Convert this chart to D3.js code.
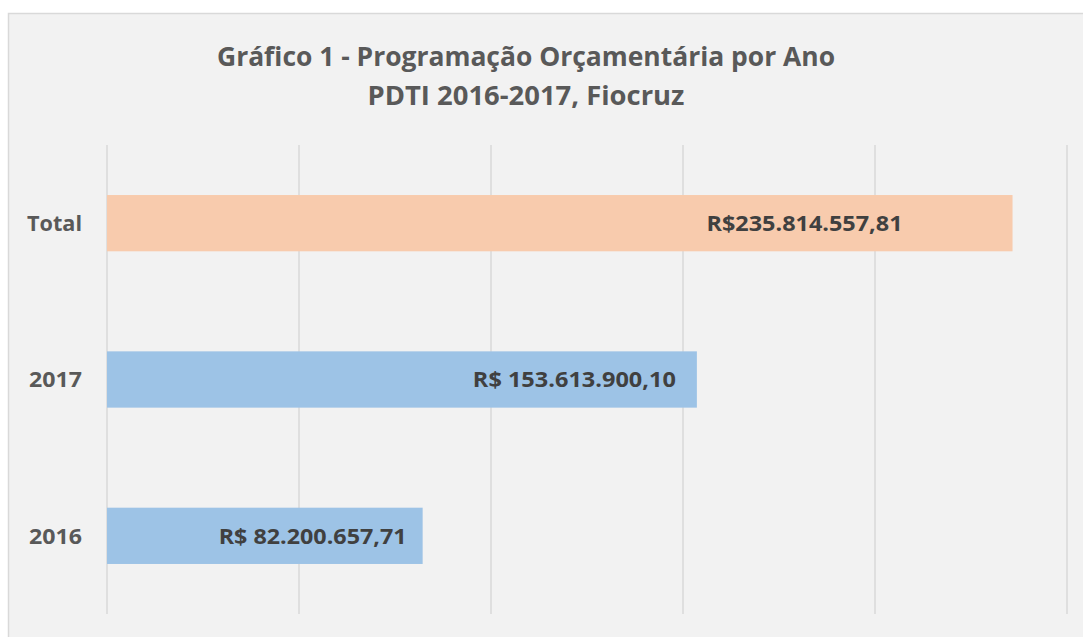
<!DOCTYPE html>
<html>
<head>
<meta charset="utf-8">
<script src="https://cdn.jsdelivr.net/npm/d3@7"></script>
<style>
  html, body { margin: 0; padding: 0; background: #fff; }
  svg { display: block; }
</style>
</head>
<body>
<svg id="chart" width="1083" height="637"></svg>
<script>
"use strict";

// data
const categories = ["Total", "2017", "2016"];
const values = [235814557.81, 153613900.10, 82200657.71];
const valueLabels = ["R$235.814.557,81", "R$ 153.613.900,10", "R$ 82.200.657,71"];
const barColors = ["#f8cbad", "#9dc3e6", "#9dc3e6"];
const gridTicks = [0, 50e6, 100e6, 150e6, 200e6, 250e6];
const titleLines = ["Gráfico 1 - Programação Orçamentária por Ano", "PDTI 2016-2017, Fiocruz"];

const font = "'Open Sans', 'Noto Sans', sans-serif";
const svg = d3.select("#chart");

// chart area (frame runs off the right / bottom of the picture)
svg.append("rect")
  .attr("x", 8.5).attr("y", 13.5)
  .attr("width", 1100).attr("height", 700)
  .attr("fill", "#f2f2f2")
  .attr("stroke", "#d9d9d9")
  .attr("stroke-width", 1.5);

// title
const titleW = [618, 317];
svg.append("g").selectAll("text")
  .data(titleLines)
  .enter()
  .append("text")
  .attr("x", 526)
  .attr("y", (d, i) => 66 + i * 39)
  .attr("text-anchor", "middle")
  .attr("font-family", font)
  .attr("font-weight", "bold")
  .attr("font-size", 27)
  .attr("fill", "#595959")
  .attr("textLength", (d, i) => titleW[i])
  .attr("lengthAdjust", "spacingAndGlyphs")
  .text(d => d);

const x = d3.scaleLinear().domain([0, 250e6]).range([107, 1067]);
const y = d3.scaleBand().domain(categories).range([145, 614]).paddingInner(0.64).paddingOuter(0.32);

// vertical gridlines
svg.append("g").selectAll("line")
  .data(gridTicks)
  .enter()
  .append("line")
  .attr("x1", d => x(d)).attr("x2", d => x(d))
  .attr("y1", 145).attr("y2", 614)
  .attr("stroke", "#d9d9d9")
  .attr("stroke-width", 1.5);

// bars
svg.append("g").selectAll("rect")
  .data(values)
  .enter()
  .append("rect")
  .attr("x", x(0))
  .attr("y", (d, i) => y(categories[i]))
  .attr("width", d => x(d) - x(0))
  .attr("height", y.bandwidth())
  .attr("fill", (d, i) => barColors[i]);

// category labels
svg.append("g").selectAll("text")
  .data(categories)
  .enter()
  .append("text")
  .attr("x", 82)
  .attr("y", d => y(d) + y.bandwidth() / 2)
  .attr("dy", "0.36em")
  .attr("text-anchor", "end")
  .attr("font-family", font)
  .attr("font-weight", "bold")
  .attr("font-size", 21.5)
  .attr("fill", "#595959")
  .attr("textLength", (d, i) => i === 0 ? 55 : 53)
  .attr("lengthAdjust", "spacingAndGlyphs")
  .text(d => d);

// value labels (the Total one was dragged left of the bar end)
const labelInset = [110, 21, 16];
const labelW = [196, 203, 188];
svg.append("g").selectAll("text")
  .data(valueLabels)
  .enter()
  .append("text")
  .attr("x", (d, i) => x(values[i]) - labelInset[i])
  .attr("y", (d, i) => y(categories[i]) + y.bandwidth() / 2)
  .attr("dy", "0.36em")
  .attr("text-anchor", "end")
  .attr("font-family", font)
  .attr("font-weight", "bold")
  .attr("font-size", 21.5)
  .attr("fill", "#404040")
  .attr("textLength", (d, i) => labelW[i])
  .attr("lengthAdjust", "spacingAndGlyphs")
  .text(d => d);
</script>
</body>
</html>
